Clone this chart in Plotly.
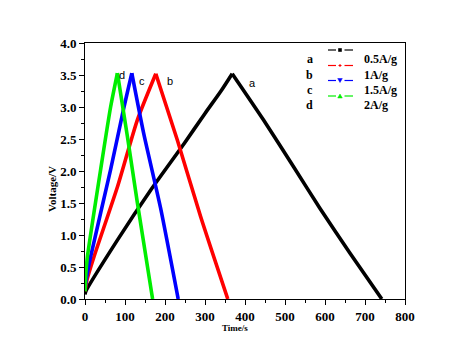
import plotly.graph_objects as go

# Series data (time in s, voltage in V)
t_a = [0, 2, 81, 164, 248, 300, 340, 368, 446, 521, 588, 663, 742]
v_a = [0.07, 0.12, 0.92, 1.70, 2.43, 2.90, 3.25, 3.52, 2.80, 2.07, 1.41, 0.71, 0.0]

t_b = [0, 5, 22.5, 81, 131, 177, 231, 289, 357]
v_b = [0.12, 0.30, 0.66, 1.75, 2.80, 3.52, 2.48, 1.29, 0.0]

t_c = [0, 3, 14, 64, 97.5, 117, 147, 189, 233]
v_c = [0.14, 0.30, 0.66, 2.02, 3.00, 3.53, 2.58, 1.42, 0.0]

t_d = [0, 2, 6, 39, 64, 81, 106, 131, 169]
v_d = [0.12, 0.40, 0.66, 2.02, 3.00, 3.53, 2.54, 1.50, 0.0]

series_names = ["0.5A/g", "1A/g", "1.5A/g", "2A/g"]
series_letters = ["a", "b", "c", "d"]
colors = ["#000000", "#ff0000", "#0000ff", "#00ee00"]
marker_kinds = ["square", "plus", "tri-down", "tri-up"]

# curve label positions (time, voltage)
label_t = [418, 212, 142, 92]
label_v = [3.38, 3.41, 3.41, 3.5]

x_ticks = [0, 100, 200, 300, 400, 500, 600, 700, 800]
y_ticks = [0.0, 0.5, 1.0, 1.5, 2.0, 2.5, 3.0, 3.5, 4.0]

serif = "Liberation Serif"

# plot area in page pixels (page has an 8px body margin)
PL, PR, PT, PB = 85, 405, 43, 299
PW, PH = PR - PL, PB - PT


def px(x):
    return (x - PL) / PW


def py(y):
    return (PB - y) / PH


fig = go.Figure()
data = [(t_a, v_a), (t_b, v_b), (t_c, v_c), (t_d, v_d)]
for (t, v), c in zip(data, colors):
    k = v.index(max(v))
    # charge branch and discharge branch, each smoothed, sharing the peak point
    for seg in (slice(0, k + 1), slice(k, len(t))):
        fig.add_trace(go.Scatter(x=t[seg], y=v[seg], mode="lines",
                                 line=dict(color=c, width=3.6, shape="spline", smoothing=0.6),
                                 showlegend=False, hoverinfo="skip"))

# curve labels
for lt, lv, letter in zip(label_t, label_v, series_letters):
    fig.add_annotation(x=lt, y=lv, text=letter, showarrow=False,
                       font=dict(family="Liberation Sans", size=11, color="black"))

# custom legend
row_y = [50, 65.5, 80.5, 96]
for ry, letter, name, c, mk in zip(row_y, series_letters, series_names, colors, marker_kinds):
    fig.add_annotation(xref="paper", yref="paper", x=px(315), y=py(ry),
                       text="<b>" + letter + "</b>", showarrow=False,
                       font=dict(family=serif, size=12, color="black"))
    fig.add_annotation(xref="paper", yref="paper", x=px(362), y=py(ry), xanchor="left",
                       text="<b>" + name + "</b>", showarrow=False,
                       font=dict(family=serif, size=12, color="black"))
    for x0, x1 in [(328, 336), (344.5, 353)]:
        fig.add_shape(type="line", xref="paper", yref="paper",
                      x0=px(x0), x1=px(x1), y0=py(ry), y1=py(ry),
                      line=dict(color=c, width=1.2))
    cx = 340
    if mk == "square":
        fig.add_shape(type="rect", xref="paper", yref="paper",
                      x0=px(cx - 1.8), x1=px(cx + 1.8), y0=py(ry - 1.8), y1=py(ry + 1.8),
                      fillcolor=c, line=dict(color=c, width=0))
    elif mk == "plus":
        fig.add_shape(type="line", xref="paper", yref="paper",
                      x0=px(cx - 1.5), x1=px(cx + 1.5), y0=py(ry), y1=py(ry),
                      line=dict(color=c, width=1))
        fig.add_shape(type="line", xref="paper", yref="paper",
                      x0=px(cx), x1=px(cx), y0=py(ry - 1.5), y1=py(ry + 1.5),
                      line=dict(color=c, width=1))
    elif mk == "tri-down":
        path = (f"M {px(cx-2.3)} {py(ry-2)} L {px(cx+2.3)} {py(ry-2)} "
                f"L {px(cx)} {py(ry+2)} Z")
        fig.add_shape(type="path", xref="paper", yref="paper", path=path,
                      fillcolor=c, line=dict(color=c, width=0.5))
    else:
        path = (f"M {px(cx-2.3)} {py(ry+2)} L {px(cx+2.3)} {py(ry+2)} "
                f"L {px(cx)} {py(ry-2)} Z")
        fig.add_shape(type="path", xref="paper", yref="paper", path=path,
                      fillcolor=c, line=dict(color=c, width=0.5))

# axis titles
fig.add_annotation(xref="paper", yref="paper", x=px(235), y=py(335),
                   text="<b>Time/s</b>", showarrow=False,
                   font=dict(family=serif, size=9, color="black"))
fig.add_annotation(xref="paper", yref="paper", x=px(44), y=py(189),
                   text="<b>Voltage/V</b>", showarrow=False, textangle=-90,
                   font=dict(family=serif, size=11, color="black"))

axis_common = dict(showline=True, linecolor="black", linewidth=1, mirror=True,
                   ticks="outside", ticklen=5, tickcolor="black", showgrid=False,
                   zeroline=False, automargin=False,
                   tickfont=dict(family=serif, size=13, color="black"))

fig.update_xaxes(range=[0, 800], tickvals=x_ticks,
                 ticktext=[f"<b>{v}</b>" for v in x_ticks],
                 minor=dict(dtick=50, ticks="outside", ticklen=3, tickcolor="black"),
                 **axis_common)
fig.update_yaxes(range=[0, 4.0], tickvals=y_ticks,
                 ticktext=[f"<b>{v:.1f}</b>" for v in y_ticks],
                 minor=dict(dtick=0.25, ticks="outside", ticklen=3, tickcolor="black"),
                 **axis_common)

W, H = 471, 359
fig.update_layout(
    width=W, height=H,
    margin=dict(l=PL - 8, r=W + 8 - PR, t=PT - 8, b=H + 8 - PB),
    paper_bgcolor="white", plot_bgcolor="white",
    showlegend=False,
)

fig.write_html("out.html")
